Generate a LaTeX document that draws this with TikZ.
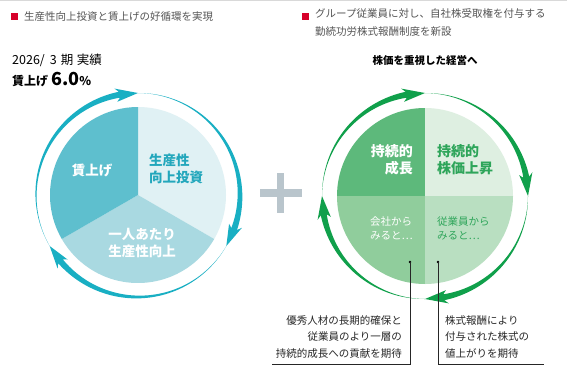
\documentclass[tikz,border=0pt]{standalone}
\usepackage{fontspec}
\setmainfont{Noto Sans CJK JP}
\definecolor{hdred}{HTML}{D7002A}
\definecolor{hdgray}{HTML}{555555}
\definecolor{teal}{HTML}{19AFC3}
\definecolor{tealtxt}{HTML}{23A7BC}
\definecolor{tA}{HTML}{E0F1F4}
\definecolor{tB}{HTML}{A9D9E1}
\definecolor{tC}{HTML}{5EBFCE}
\definecolor{grn}{HTML}{10A04B}
\definecolor{grntxt}{HTML}{2EA55A}
\definecolor{gA}{HTML}{5DB97B}
\definecolor{gB}{HTML}{DEEFE1}
\definecolor{gC}{HTML}{90CD9C}
\definecolor{gD}{HTML}{B9DFC1}
\definecolor{plusc}{HTML}{B9C5CC}
\newcommand\tarrow[4]{% #1 start angle, #2 tip angle, #3 colour, #4 radius
  \pgfmathsetmacro\ab{#2+10.5}%
  \fill[#3] plot[domain=#1:\ab,samples=60] ({(#4+3*((#1-\x)/(#1-\ab))^1.3)*cos(\x)},{(#4+3*((#1-\x)/(#1-\ab))^1.3)*sin(\x)})
   -- ({(#4+7)*cos(\ab+2)},{(#4+7)*sin(\ab+2)})
   -- ({#4*cos(#2)},{#4*sin(#2)})
   -- ({(#4-6.5)*cos(\ab+2)},{(#4-6.5)*sin(\ab+2)})
   -- plot[domain=\ab:#1,samples=60] ({(#4-3*((#1-\x)/(#1-\ab))^1.3)*cos(\x)},{(#4-3*((#1-\x)/(#1-\ab))^1.3)*sin(\x)})
   -- cycle;}
\tikzset{
  hdr/.style={anchor=west,text=hdgray,font=\fontsize{10.5}{18}\selectfont,inner sep=0pt,align=left},
  bigw/.style={text=white,font=\fontsize{13.5}{17}\selectfont\bfseries,inner sep=0pt},
  smallt/.style={font=\fontsize{10.5}{14}\selectfont,inner sep=0pt},
  note/.style={font=\fontsize{10.5}{16.5}\selectfont,inner sep=0pt,text=black!85},
  dot/.style={circle,fill=black,inner sep=0pt,minimum size=2.6pt},
  lead/.style={draw=black!85,line width=0.7pt}
}
\begin{document}
\begin{tikzpicture}[x=1pt,y=-1pt]
\useasboundingbox (0,0) rectangle (567,375);
\fill[white] (0,0) rectangle (567,375);
\draw[black!15,line width=0.8pt] (0,0.4) -- (567,0.4);
% headers
\fill[hdred] (11,13) rectangle (18,20);
\node[hdr] (h1) at (24,17) {生産性向上投資と賃上げの好循環を実現};
\fill[hdred] (302,13) rectangle (309,20);
\node[hdr,anchor=north west] (h2) at (315,8.5) {グループ従業員に対し、自社株受取権を付与する\\勤続功労株式報酬制度を新設};
\node[anchor=west,inner sep=0pt,font=\fontsize{12.5}{14}\selectfont] (yr) at (12,60) {2026/\hspace{5pt}3\hspace{4pt}期\hspace{3.5pt}実績};
\node[anchor=west,inner sep=0pt] (wage) at (12,79) {\fontsize{12}{13}\selectfont\bfseries 賃上げ\hspace{3pt}\fontsize{18}{18}\selectfont 6.0\fontsize{12}{13}\selectfont\%};
\node[inner sep=0pt,font=\fontsize{10.5}{13}\selectfont\bfseries] (mgmt) at (425,60) {株価を重視した経営へ};
% left circle
\begin{scope}[shift={(138,195)},yscale=-1]
  \fill[tA] (0,0) -- (90:88) arc[start angle=90,end angle=-30,radius=88] -- cycle;
  \fill[tB] (0,0) -- (-30:88) arc[start angle=-30,end angle=-150,radius=88] -- cycle;
  \fill[tC] (0,0) -- (210:88) arc[start angle=210,end angle=90,radius=88] -- cycle;
  \tarrow{90}{-30}{teal}{102}
  \tarrow{-30}{-150}{teal}{102}
  \tarrow{210}{90}{teal}{102}
\end{scope}
\node[bigw] (w1) at (92,170) {賃上げ};
\node[bigw,text=tealtxt,anchor=west,align=left] (w2) at (149,169) {生産性\\向上投資};
\node[bigw,align=center] (w3) at (142,243.5) {一人あたり\\生産性向上};
% plus
\fill[plusc] (260,189) rectangle (302,197);
\fill[plusc] (277,173) rectangle (284,213);
% right circle
\begin{scope}[shift={(425,196)},yscale=-1]
  \fill[gA] (0,0) -- (90:88) arc[start angle=90,end angle=180,radius=88] -- cycle;
  \fill[gB] (0,0) -- (0:88) arc[start angle=0,end angle=90,radius=88] -- cycle;
  \fill[gC] (0,0) -- (180:88) arc[start angle=180,end angle=270,radius=88] -- cycle;
  \fill[gD] (0,0) -- (270:88) arc[start angle=270,end angle=360,radius=88] -- cycle;
  \tarrow{180}{90}{grn}{103}
  \tarrow{90}{0}{grn}{103}
  \tarrow{0}{-90}{grn}{103}
  \tarrow{270}{180}{grn}{103}
\end{scope}
\node[bigw,font=\fontsize{14}{17}\selectfont\bfseries,anchor=east,align=right] (g1) at (413,160) {持続的\\成長};
\node[bigw,font=\fontsize{14}{17}\selectfont\bfseries,text=grntxt,anchor=west,align=left] (g2) at (437,160) {持続的\\株価上昇};
\node[smallt,text=white,anchor=east,align=left] (g3) at (413,228) {会社から\\みると…};
\node[smallt,text=grntxt,anchor=west,align=left] (g4) at (437,228) {従業員から\\みると…};
% leaders
\node[dot] (d1) at (410,262) {};
\node[dot] (d2) at (438,262) {};
\coordinate (c1) at (410,364);
\coordinate (e1) at (272,364);
\coordinate (c2) at (438,364);
\coordinate (e2) at (544,364);
\draw[lead] (d1.center) -- (c1) -- (e1);
\draw[lead] (d2.center) -- (c2) -- (e2);
\node[note,anchor=east,align=right] (n1) at (402,337) {優秀人材の長期的確保と\\従業員のより一層の\\持続的成長への貢献を期待};
\node[note,anchor=west,align=left] (n2) at (445,337) {株式報酬により\\付与された株式の\\値上がりを期待};
\end{tikzpicture}
\end{document}
